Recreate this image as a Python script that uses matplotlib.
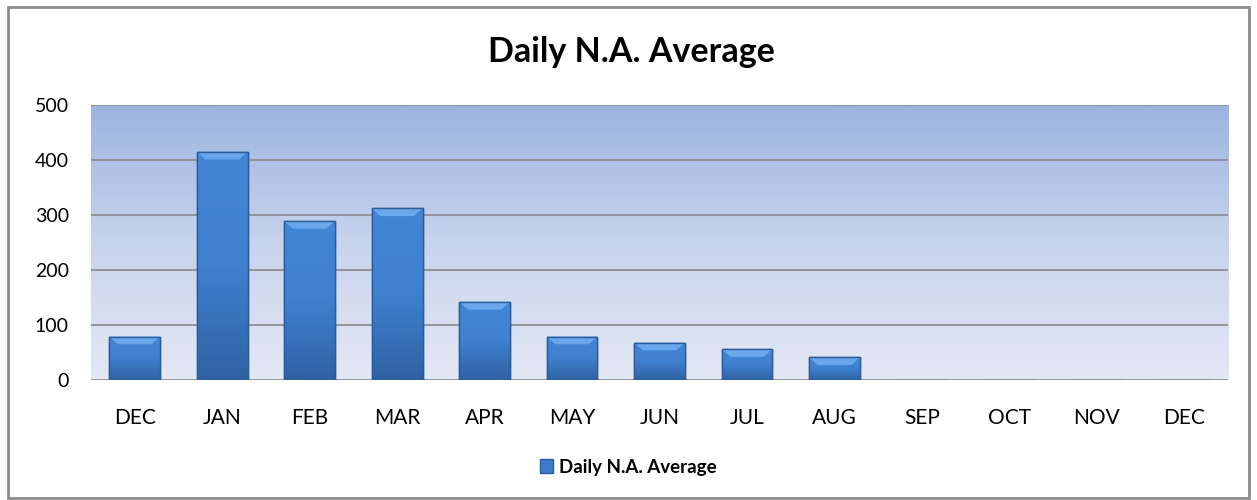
import numpy as np
import matplotlib.pyplot as plt
from matplotlib.patches import Rectangle
from matplotlib.colors import LinearSegmentedColormap

months = ["DEC", "JAN", "FEB", "MAR", "APR", "MAY", "JUN", "JUL", "AUG",
          "SEP", "OCT", "NOV", "DEC"]
values = [79, 415, 289, 312, 142, 79, 68, 56, 41, 0, 0, 0, 0]
yticks = [0, 100, 200, 300, 400, 500]
series_name = "Daily N.A. Average"

plt.rcParams['font.family'] = ['Lato', 'DejaVu Sans']

fig = plt.figure(figsize=(12.57, 5), dpi=100)
ax = fig.add_axes([0.0724, 0.24, 0.9046, 0.55])

x = np.arange(len(months))
ax.set_xlim(-0.5, len(months) - 0.5)
ax.set_ylim(0, 500)

# background gradient, dark blue on top fading down
bg = LinearSegmentedColormap.from_list("bg", ["#e3e8f4", "#c8d3ec", "#9db4e0"])
grad = np.linspace(0, 1, 256).reshape(-1, 1)
ax.imshow(grad, aspect="auto", cmap=bg, origin="lower",
          extent=[-0.5, len(months) - 0.5, 0, 500], zorder=0)

for t in yticks:
    ax.axhline(t, color="#8a8a8a", lw=1.2, zorder=1)

bars = ax.bar(x, values, width=0.58, color="#3d7cc9", edgecolor="#2b5c99",
              lw=1.0, zorder=2, label=series_name)

# shaded fill + light bevel on top of each bar
barcm = LinearSegmentedColormap.from_list("bar", ["#2f62a3", "#3f80cf", "#4386d6"])
for b in bars:
    h = b.get_height()
    if h <= 0:
        continue
    x0, w = b.get_x(), b.get_width()
    im = ax.imshow(grad, aspect="auto", cmap=barcm, origin="lower",
                   extent=[x0, x0 + w, 0, h], zorder=2.1)
    im.set_clip_path(b)
    bev = min(14, h * 0.35)
    ax.fill([x0, x0 + w, x0 + w * 0.83, x0 + w * 0.17],
            [h, h, h - bev, h - bev], color="#6aa6ec", lw=0, zorder=2.2)
    ax.add_patch(Rectangle((x0, 0), w, h, fill=False, ec="#2b5c99", lw=1.0,
                           zorder=2.3))

ax.set_xticks(x)
ax.set_xticklabels(months, fontsize=15)
ax.set_yticks(yticks)
ax.set_yticklabels([str(t) for t in yticks], fontsize=14)
ax.tick_params(length=0, pad=20, axis="x")
ax.tick_params(length=0, pad=16, axis="y")
for s in ax.spines.values():
    s.set_visible(False)

fig.text(0.502, 0.895, series_name, ha="center", va="center", fontsize=24.5,
         fontweight="bold")

leg = fig.legend(handles=[bars], labels=[series_name], loc="center",
                 bbox_to_anchor=(0.5, 0.066), frameon=False,
                 prop={"size": 13.5, "weight": "bold"}, handlelength=0.7,
                 handleheight=0.7, handletextpad=0.3)

fig.patches.append(Rectangle((0.006, 0.004), 0.988, 0.982,
                             transform=fig.transFigure, fill=False,
                             ec="#8c8c8c", lw=2))

fig.savefig("out.png", dpi=100)
